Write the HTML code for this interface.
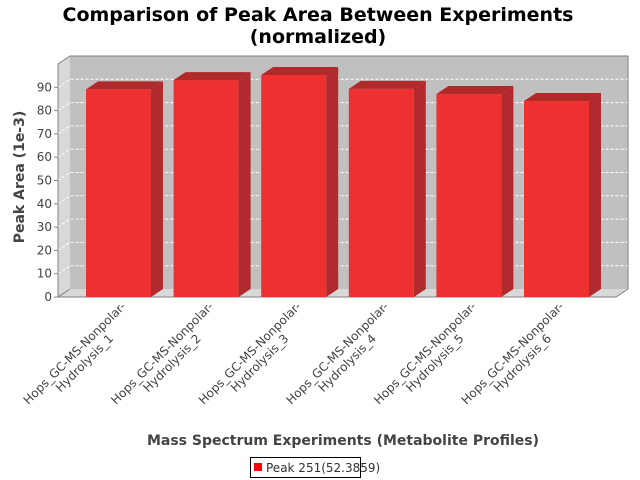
<!DOCTYPE html>
<html><head><meta charset="utf-8"><style>
body{margin:0;background:#fff;}
svg{display:block;font-family:"DejaVu Sans","Liberation Sans",sans-serif;}
</style></head><body>
<svg id="chart" width="640" height="480" viewBox="0 0 640 480">
<rect width="640" height="480" fill="#fff"/>
<text x="318" y="21" text-anchor="middle" font-size="19" font-weight="bold">Comparison of Peak Area Between Experiments</text>
<text x="318" y="43" text-anchor="middle" font-size="19" font-weight="bold">(normalized)</text>
<g id="plot"></g>
<text transform="translate(24,177) rotate(-90)" text-anchor="middle" font-size="14" font-weight="bold" fill="#444">Peak Area (1e-3)</text>
<text x="343" y="445" text-anchor="middle" font-size="14" font-weight="bold" fill="#444">Mass Spectrum Experiments (Metabolite Profiles)</text>
<g>
<rect x="250.5" y="457.5" width="110" height="20" fill="#fff" stroke="#000"/>
<rect x="254" y="463" width="8" height="8" fill="#ff0000"/>
<text x="266" y="472" font-size="12" fill="#333">Peak 251(52.3859)</text>
</g>
</svg>
<script>
const categories=["Hydrolysis_1","Hydrolysis_2","Hydrolysis_3","Hydrolysis_4","Hydrolysis_5","Hydrolysis_6"];
const values=[89.1,93.1,95.3,89.3,87.1,84.1];
const ticks=[0,10,20,30,40,50,60,70,80,90];
const NS="http://www.w3.org/2000/svg";
const g=document.getElementById('plot');
const X0=58,X1=616,Y0=297,DX=12,DY=-8,PX=23.3;
function y(v){return Y0-v*PX/10;}
function el(t,a,p){const e=document.createElementNS(NS,t);for(const k in a)e.setAttribute(k,a[k]);(p||g).appendChild(e);return e;}
// walls
let w=el('polygon',{points:`${X0+DX},${64+DY} ${X1+DX},${64+DY} ${X1+DX},${Y0+DY} ${X0+DX},${Y0+DY}`,fill:'#c0c0c0'});


w=el('polygon',{points:`${X0},64 ${X0+DX},${64+DY} ${X0+DX},${Y0+DY} ${X0},${Y0}`,fill:'#d8d8d8'});


w=el('polygon',{points:`${X0},${Y0} ${X0+DX},${Y0+DY} ${X1+DX},${Y0+DY} ${X1},${Y0}`,fill:'#d8d8d8'});


ticks.forEach(t=>{
 if(t>0){const l=el('polyline',{points:`${X0},${y(t)} ${X0+DX},${y(t)+DY} ${X1+DX},${y(t)+DY}`,fill:'none',stroke:'#fff','stroke-dasharray':'3,2','stroke-width':1});
 
 }
 const tk=el('line',{x1:X0-4,x2:X0,y1:y(t),y2:y(t),stroke:'#888'});
 
 
 const tx=el('text',{x:X0-6,y:y(t)+4,'text-anchor':'end','font-size':12,fill:'#444'});
 tx.textContent=t;
 
 
});
const ol=el('polyline',{points:`${X0},${Y0} ${X0},64 ${X0+DX},${64+DY} ${X1+DX},${64+DY} ${X1+DX},${Y0+DY} ${X1},${Y0} ${X0},${Y0} ${X0+DX},${Y0+DY}`,fill:'none',stroke:'#808080'});


const step=87.6,bw=65,first=86;
categories.forEach((c,i)=>{
 const x=first+i*step,top=y(values[i]);
 const b=el('g',{});
 
 
 el('rect',{x:x,y:top,width:bw,height:Y0-top,fill:'#ee3030'},b);
 el('polygon',{points:`${x},${top} ${x+DX},${top+DY} ${x+bw+DX},${top+DY} ${x+bw},${top}`,fill:'#b02a2a'},b);
 el('polygon',{points:`${x+bw},${top} ${x+bw+DX},${top+DY} ${x+bw+DX},${Y0+DY} ${x+bw},${Y0}`,fill:'#b02a2e'},b);
 const cx=x+bw/2;
 const lg=el('g',{transform:`translate(${cx+7},308) rotate(-45)`,'font-size':12,fill:'#444'});
 
 
 const t1=el('text',{x:-68,y:0,'text-anchor':'middle'},lg);t1.textContent='Hops_GC-MS-Nonpolar-';
 const t2=el('text',{x:-68,y:14,'text-anchor':'middle'},lg);t2.textContent=c;
});
</script>
</body></html>
